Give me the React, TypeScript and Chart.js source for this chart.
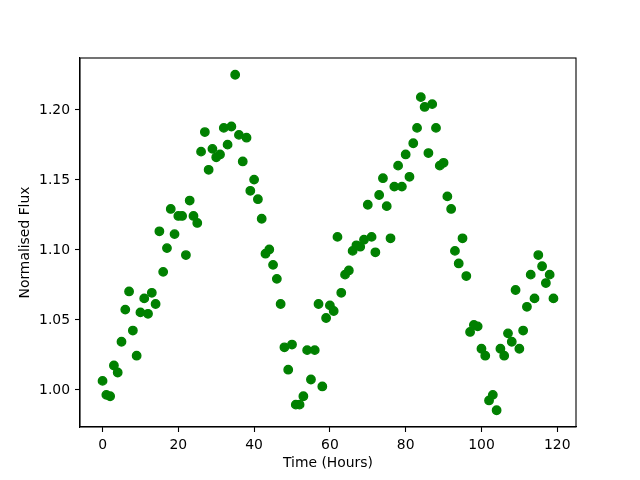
import React, { useEffect, useRef } from "react";
import { Chart, registerables } from "chart.js";

Chart.register(...registerables);

const hours: number[] = [
  0, 1, 2, 3, 4, 5, 6, 7, 8, 9, 10, 11, 12, 13, 14, 15, 16, 17, 18, 19,
  20, 21, 22, 23, 24, 25, 26, 27, 28, 29, 30, 31, 32, 33, 34, 35, 36, 37, 38, 39,
  40, 41, 42, 43, 44, 45, 46, 47, 48, 49, 50, 51, 52, 53, 54, 55, 56, 57, 58, 59,
  60, 61, 62, 63, 64, 65, 66, 67, 68, 69, 70, 71, 72, 73, 74, 75, 76, 77, 78, 79,
  80, 81, 82, 83, 84, 85, 86, 87, 88, 89, 90, 91, 92, 93, 94, 95, 96, 97, 98, 99,
  100, 101, 102, 103, 104, 105, 106, 107, 108, 109, 110, 111, 112, 113, 114, 115, 116, 117, 118, 119,
];

const flux: number[] = [
  1.006, 0.996, 0.995, 1.017, 1.012, 1.034, 1.057, 1.070, 1.042, 1.024,
  1.055, 1.065, 1.054, 1.069, 1.061, 1.113, 1.084, 1.101, 1.129, 1.111,
  1.124, 1.124, 1.096, 1.135, 1.124, 1.119, 1.170, 1.184, 1.157, 1.172,
  1.166, 1.168, 1.187, 1.175, 1.188, 1.225, 1.182, 1.163, 1.180, 1.142,
  1.150, 1.136, 1.122, 1.097, 1.100, 1.089, 1.079, 1.061, 1.030, 1.014,
  1.032, 0.989, 0.989, 0.995, 1.028, 1.007, 1.028, 1.061, 1.002, 1.051,
  1.060, 1.056, 1.109, 1.069, 1.082, 1.085, 1.099, 1.103, 1.102, 1.107,
  1.132, 1.109, 1.098, 1.139, 1.151, 1.131, 1.108, 1.145, 1.160, 1.145,
  1.168, 1.152, 1.176, 1.187, 1.209, 1.202, 1.169, 1.204, 1.187, 1.160,
  1.162, 1.138, 1.129, 1.099, 1.090, 1.108, 1.081, 1.041, 1.046, 1.045,
  1.029, 1.024, 0.992, 0.996, 0.985, 1.029, 1.024, 1.040, 1.034, 1.071,
  1.029, 1.042, 1.059, 1.082, 1.065, 1.096, 1.088, 1.076, 1.082, 1.065,
];

const xTicks: number[] = [0, 20, 40, 60, 80, 100, 120];
const yTicks: number[] = [1.0, 1.05, 1.1, 1.15, 1.2];

const xLabel = "Time (Hours)";
const yLabel = "Normalised Flux";

const FONT = { family: "'DejaVu Sans', sans-serif", size: 13.9 };

const frame = {
  id: "frame",
  afterDraw(chart: any) {
    const { ctx, chartArea } = chart;
    ctx.save();
    ctx.strokeStyle = "#000";
    ctx.lineWidth = 1.1;
    ctx.strokeRect(chartArea.left, chartArea.top, chartArea.right - chartArea.left, chartArea.bottom - chartArea.top);
    ctx.restore();
  },
};

export default function App() {
  const ref = useRef<HTMLCanvasElement | null>(null);

  useEffect(() => {
    document.body.style.margin = "0";
    const canvas = ref.current;
    if (!canvas) return;
    const points = hours.map((h, i) => ({ x: h, y: flux[i] }));
    const chart = new Chart(canvas, {
      type: "scatter",
      data: {
        datasets: [
          {
            data: points,
            backgroundColor: "#008000",
            borderColor: "#008000",
            borderWidth: 1.4,
            pointRadius: 4.2,
            pointHoverRadius: 4.2,
          },
        ],
      },
      options: {
        animation: false,
        responsive: false,
        devicePixelRatio: 1,
        events: [],
        layout: { padding: { top: 58, right: 64, left: 0, bottom: 0 } },
        plugins: { legend: { display: false }, tooltip: { enabled: false } },
        scales: {
          x: {
            type: "linear",
            min: -5.95,
            max: 124.95,
            afterFit: (s: any) => {
              s.height = 53;
            },
            afterBuildTicks: (s: any) => {
              s.ticks = xTicks.map((v) => ({ value: v }));
            },
            ticks: {
              color: "#000",
              font: FONT,
              padding: 5,
              maxRotation: 0,
              callback: (v: any) => String(v),
            },
            grid: {
              drawOnChartArea: false,
              drawTicks: true,
              tickLength: 5,
              tickColor: "#000",
              tickWidth: 1.1,
            },
            border: { display: true, color: "#000", width: 1.1 },
            title: {
              display: true,
              text: xLabel,
              color: "#000",
              font: FONT,
              padding: { top: 0, bottom: 8 },
            },
          },
          y: {
            type: "linear",
            min: 0.973,
            max: 1.237,
            afterFit: (s: any) => {
              s.width = 80;
            },
            afterBuildTicks: (s: any) => {
              s.ticks = yTicks.map((v) => ({ value: v }));
            },
            ticks: {
              color: "#000",
              font: FONT,
              padding: 5,
              labelOffset: 1,
              callback: (v: any) => Number(v).toFixed(2),
            },
            grid: {
              drawOnChartArea: false,
              drawTicks: true,
              tickLength: 5,
              tickColor: "#000",
              tickWidth: 1.1,
            },
            border: { display: true, color: "#000", width: 1.1 },
            title: {
              display: true,
              text: yLabel,
              color: "#000",
              font: FONT,
              padding: { top: 17, bottom: 0 },
            },
          },
        },
      },
      plugins: [frame],
    });
    return () => chart.destroy();
  }, []);

  return (
    <div style={{ width: 640, height: 480, background: "#fff" }}>
      <canvas ref={ref} width={640} height={480} style={{ display: "block" }} />
    </div>
  );
}
